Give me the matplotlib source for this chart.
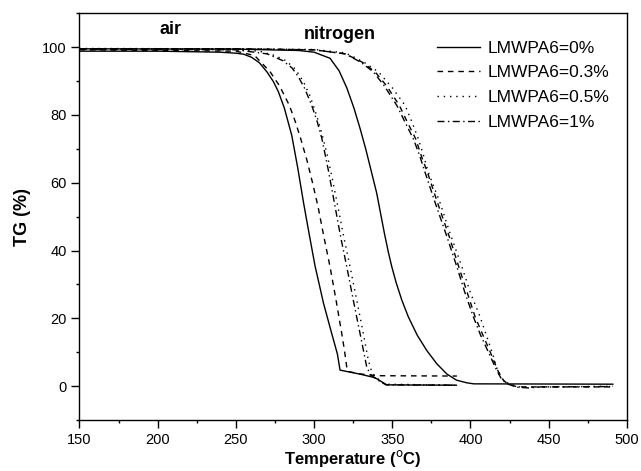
"""TG curves of PA6 samples in air and nitrogen."""
import matplotlib
matplotlib.use("Agg")
import matplotlib.pyplot as plt
from matplotlib.ticker import MultipleLocator

plt.rcParams["font.family"] = ["Liberation Sans", "DejaVu Sans"]

LABELS = ["LMWPA6=0%", "LMWPA6=0.3%", "LMWPA6=0.5%", "LMWPA6=1%"]

# ── air ──────────────────────────────────────────────────────────────────────
air_0_T  = [150, 200, 240, 250, 255, 260, 265, 270, 274, 277.2, 281, 285.7,
            289.5, 293.3, 297, 300.6, 306, 311.3, 314.9, 316.6, 330, 339,
            346.5, 391]
air_0_TG = [98.8, 98.8, 98.5, 98.2, 97.9, 97.0, 95.4, 92.6, 89.8, 86.8, 82,
            74, 64.5, 54, 44.5, 35.5, 24.5, 15.5, 9.5, 4.75, 3.5, 2.5,
            0.4, 0.3]

air_03_T  = [150, 250, 262, 271.9, 278, 284.2, 288, 291.5, 295.5, 299, 302.5,
             306.3, 310.2, 314, 317.7, 319.5, 320.9, 322, 330, 340, 391.3]
air_03_TG = [99.2, 98.8, 97.5, 92.7, 88.5, 82.8, 78, 72.9, 66.5, 60, 53,
             44, 35.2, 25.5, 15.5, 10.3, 5.6, 4.3, 3.6, 3.1, 3.0]

air_05_T  = [150, 250, 265, 275, 282, 288, 293, 297.5, 301.5, 305, 308.5, 311.5,
             315.2, 319, 323, 327.3, 331.5, 334.7, 337, 340, 345, 391]
air_05_TG = [99.5, 99.3, 98.8, 97.5, 96, 93.5, 90, 85.5, 80, 74.5, 68, 61.5,
             53, 44, 35.2, 25.3, 15.5, 7.6, 4, 2.5, 0.6, 0.3]

air_1_T  = [150, 250, 270, 280, 286, 290, 294, 298.5, 302, 305, 309.2, 313.4,
            317, 320.9, 325.1, 329.4, 333.7, 336, 340, 346, 391]
air_1_TG = [99.4, 99.2, 98, 96, 93.8, 91.2, 87.8, 82.8, 78, 73, 63.5, 53,
            44, 35.2, 25.3, 15.5, 5.6, 3.5, 2, 0.4, 0.3]

# ── nitrogen ─────────────────────────────────────────────────────────────────
n2_0_T  = [150, 250, 290, 300, 310.2, 316, 320.9, 325.5, 329.4, 333, 336.5,
           340, 342.5, 345, 347.5, 349.7, 352.5, 356, 360.3, 366, 372.1,
           378.5, 384.9, 391, 397.7, 402, 491]
n2_0_TG = [99.5, 99.4, 99, 98.5, 96.7, 93, 88, 82, 76, 70, 63.5,
           57, 51, 45, 39.5, 35.2, 30.5, 25.5, 20.4, 15, 10.5,
           6.6, 3.6, 1.8, 1.0, 0.7, 0.6]

n2_03_T  = [150, 250, 300, 320, 331, 339, 346.5, 354.5, 359.5, 365, 368.5,
            372.5, 379, 386.5, 392.5, 398, 403, 408, 412.5, 417.5, 421, 424,
            430, 491]
n2_03_TG = [99.5, 99.5, 99.2, 98, 95.5, 92.7, 88.5, 82.8, 78, 72.9, 68,
            63, 54, 44, 35.2, 27.5, 20.4, 15, 10.2, 4.6, 1.8, 0.6,
            -0.2, -0.2]

n2_05_T  = [150, 250, 300, 320, 332, 341.1, 350, 358.2, 362.5, 366.7, 370,
            373.1, 380.6, 387, 394.5, 400, 406.2, 410, 413.7, 417.9, 421,
            424.7, 432, 440, 491]
n2_05_TG = [99.6, 99.5, 99.3, 98.3, 95.5, 92.7, 88, 82.8, 78, 72.9, 68,
            63, 54, 45, 35.2, 27.5, 20.4, 15.2, 10.2, 3.8, 1.8,
            0.7, -0.3, -0.3, 0]

n2_1_T  = [150, 250, 300, 320, 330, 337.9, 345, 352.9, 358, 363.5, 367.5, 371,
           377.5, 385, 391.3, 396.5, 401.9, 406.5, 411.5, 416.8, 420, 423.4,
           430, 437, 445, 491]
n2_1_TG = [99.5, 99.5, 99.2, 98, 95.5, 92.7, 88.5, 82.8, 78, 72.9, 68, 63,
           54, 44, 35.2, 27.5, 20.4, 15, 10, 4.6, 2.0, 0.7,
           -0.3, -0.5, -0.2, -0.1]

STYLES = ["-", (0, (4, 3.5)), (0, (1, 3.5)), (0, (5, 2.5, 1, 2.5))]

fig = plt.figure(figsize=(6.41, 4.71), dpi=100)
ax = fig.add_axes([0.124, 0.108, 0.854, 0.864])

air = [(air_0_T, air_0_TG), (air_03_T, air_03_TG),
       (air_05_T, air_05_TG), (air_1_T, air_1_TG)]
n2 = [(n2_0_T, n2_0_TG), (n2_03_T, n2_03_TG),
      (n2_05_T, n2_05_TG), (n2_1_T, n2_1_TG)]

for (t, tg), ls, lab in zip(air, STYLES, LABELS):
    ax.plot(t, tg, color="black", linestyle=ls, linewidth=1.0, label=lab)
for (t, tg), ls in zip(n2, STYLES):
    ax.plot(t, tg, color="black", linestyle=ls, linewidth=1.0)

ax.text(208.5, 105.3, "air", fontsize=13, fontweight="bold",
        ha="center", va="center")
ax.text(316.2, 103.8, "nitrogen", fontsize=13, fontweight="bold",
        ha="center", va="center")

ax.set_xlim(150, 500)
ax.set_ylim(-10, 110)
ax.xaxis.set_major_locator(MultipleLocator(50))
ax.xaxis.set_minor_locator(MultipleLocator(25))
ax.yaxis.set_minor_locator(MultipleLocator(10))
ax.set_yticks([0, 20, 40, 60, 80, 100])
ax.tick_params(which="major", direction="out", length=5.5, width=1.0,
               labelsize=10.5, top=False, right=False)
ax.tick_params(which="minor", direction="out", length=2.5, width=1.0,
               top=False, right=False)
for s in ax.spines.values():
    s.set_linewidth(1.0)

ax.set_xlabel("Temperature ($^{\\rm o}$C)", fontsize=12, fontweight="bold",
              labelpad=1)
ax.set_ylabel("TG (%)", fontsize=13, fontweight="bold", labelpad=8)

ax.legend(loc="upper left", bbox_to_anchor=(0.653, 0.933), frameon=False,
          fontsize=12.5, handlelength=2.5, handletextpad=0.4,
          labelspacing=0.55, borderaxespad=0, borderpad=0)

fig.savefig("out.png", dpi=100)
